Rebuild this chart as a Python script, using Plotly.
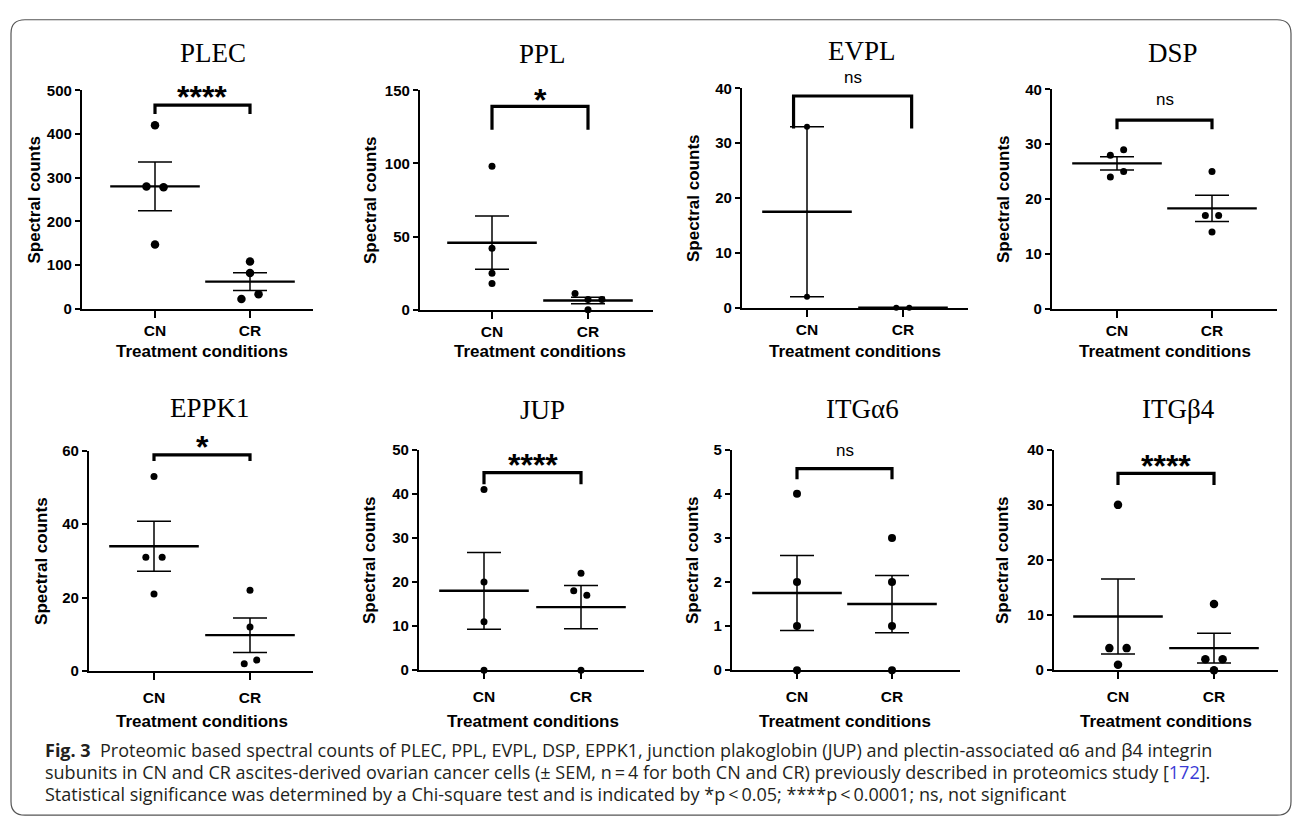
import plotly.graph_objects as go

W, H = 1293, 829

# ---------------- data ----------------
genes = ["PLEC", "PPL", "EVPL", "DSP", "EPPK1", "JUP", "ITGα6", "ITGβ4"]
groups = ["CN", "CR"]
significance = ["****", "*", "ns", "ns", "*", "****", "ns", "****"]

cn_values = [[420, 280, 278, 147], [98, 42, 25, 18], [33, 2], [28, 29, 24, 25],
             [53, 31, 31, 21], [41, 20, 11, 0], [4, 2, 1, 0], [30, 4, 4, 1]]
cr_values = [[108, 82, 22, 33], [11, 7, 7, 0], [0, 0], [25, 17, 17, 14],
             [22, 12, 2, 3], [22, 18, 17, 0], [3, 2, 1, 0], [12, 2, 2, 0]]

cn_mean = [280, 45.8, 17.5, 26.5, 34.0, 18.0, 1.75, 9.75]
cn_sem = [55.7, 18.2, 15.5, 1.2, 6.8, 8.7, 0.85, 6.8]
cr_mean = [62, 6.3, 0, 18.3, 9.8, 14.3, 1.5, 4.0]
cr_sem = [20.3, 2.3, 0, 2.4, 4.7, 4.9, 0.65, 2.7]

y_max = [500, 150, 40, 40, 60, 50, 5, 40]
y_dtick = [100, 50, 10, 10, 20, 10, 1, 10]

bracket_top = [466, 139, 38.6, 34.4, 58.9, 44.8, 4.57, 35.7]
bracket_leg = [446, 123, 32.7, 32.7, 57.2, 42.2, 4.33, 33.6]

caption_lines = [
    "<b>Fig. 3</b>  Proteomic based spectral counts of PLEC, PPL, EVPL, DSP, EPPK1, junction plakoglobin (JUP) and plectin-associated α6 and β4 integrin",
    "subunits in CN and CR ascites-derived ovarian cancer cells (± SEM, n\u2009=\u20094 for both CN and CR) previously described in proteomics study [<span style='color:#3b3bd6'>172</span>].",
    "Statistical significance was determined by a Chi-square test and is indicated by *p\u2009<\u20090.05; ****p\u2009<\u20090.0001; ns, not significant",
]

# ---------------- layout / style (pixel geometry) ----------------
geom = [
    dict(ax=82, cn=155, cr=250, right=313, top=83, bottom=306, tx=213, ty=45, yt=35),
    dict(ax=420, cn=492, cr=588, right=653, top=83, bottom=307, tx=542, ty=46, yt=370),
    dict(ax=742, cn=807, cr=903, right=968, top=81, bottom=305, tx=862, ty=43, yt=693),
    dict(ax=1052, cn=1117, cr=1212, right=1277, top=82, bottom=306, tx=1173, ty=45, yt=1003),
    dict(ax=89, cn=154, cr=250, right=313, top=451, bottom=676, tx=210, ty=407, yt=42),
    dict(ax=419, cn=484, cr=581, right=644, top=450, bottom=675, tx=542, ty=409, yt=370),
    dict(ax=732, cn=797, cr=892, right=960, top=450, bottom=675, tx=862, ty=408, yt=693),
    dict(ax=1054, cn=1118, cr=1214, right=1278, top=450, bottom=675, tx=1178, ty=408, yt=1003),
]
xtitle_y = [350, 350, 350, 350, 727, 727, 727, 727]
xtick_standoff = [0, 0, 0, 0, 4, 4, 4, 4]
cn_offsets = [[0, -0.09, 0.09, 0], [0, 0, 0, 0], [0, 0], [-0.07, 0.07, -0.07, 0.07],
              [0, -0.085, 0.085, 0], [0, 0, 0, 0], [0, 0, 0, 0], [0, -0.09, 0.09, 0]]
cr_offsets = [[0, 0, -0.09, 0.09], [-0.135, 0, 0.145, 0], [-0.07, 0.065], [0, -0.07, 0.07, 0],
              [0, 0, -0.06, 0.07], [0, -0.075, 0.06, 0], [0, 0, 0, 0], [0, -0.09, 0.09, 0]]
marker_size = [8.5, 7, 6, 7, 7, 7, 8, 8.5]
bracket_x = [(0, 1)] * 8
bracket_x[2] = (-0.14, 1.09)
label_y = [500, 148, 41.6, 37.7, 62.9, 48.1, 4.94, 38.3]

BLACK = "#000000"
SANS = "Liberation Sans, Arial, sans-serif"

fig = go.Figure()
layout = dict(
    width=W, height=H, autosize=False,
    margin=dict(l=0, r=0, t=0, b=0),
    paper_bgcolor="white", plot_bgcolor="white",
    showlegend=False,
)
annotations = []
shapes = []


def px_x(p):
    return p / W


def px_y(p):
    return 1 - p / H


for i, g in enumerate(genes):
    G = geom[i]
    sp = G["cr"] - G["cn"]
    xl = -(G["cn"] - G["ax"]) / sp
    xr = (G["right"] - G["cn"]) / sp
    xa = "x" if i == 0 else f"x{i+1}"
    ya = "y" if i == 0 else f"y{i+1}"
    xkey = "xaxis" if i == 0 else f"xaxis{i+1}"
    ykey = "yaxis" if i == 0 else f"yaxis{i+1}"

    layout[xkey] = dict(
        domain=[px_x(G["ax"]), px_x(G["right"])], anchor=ya,
        range=[xl, xr], tickmode="array", tickvals=[0, 1], ticktext=groups,
        showline=True, linecolor=BLACK, linewidth=2.2, showgrid=False, zeroline=False,
        ticks="outside", ticklen=7, tickwidth=2, tickcolor=BLACK,
        ticklabelstandoff=xtick_standoff[i],
        tickfont=dict(family=SANS, size=15.5, color=BLACK, weight="bold"),
        fixedrange=True,
    )
    layout[ykey] = dict(
        domain=[px_y(G["bottom"]), px_y(G["top"])], anchor=xa,
        range=[0, y_max[i]], tickmode="linear", tick0=0, dtick=y_dtick[i],
        showline=True, linecolor=BLACK, linewidth=2.2, showgrid=False, zeroline=False,
        ticks="outside", ticklen=5, tickwidth=2, tickcolor=BLACK,
        tickfont=dict(family=SANS, size=15, color=BLACK, weight="bold"),
        fixedrange=True,
    )

    # individual points
    xs = [0 + o for o in cn_offsets[i]] + [1 + o for o in cr_offsets[i]]
    ys = list(cn_values[i]) + list(cr_values[i])
    fig.add_trace(go.Scatter(
        x=xs, y=ys, mode="markers", xaxis=xa, yaxis=ya, cliponaxis=False,
        marker=dict(size=marker_size[i], color=BLACK, line=dict(width=0)),
        hoverinfo="skip",
    ))
    # mean line + SEM
    fig.add_trace(go.Scatter(
        x=[0, 1], y=[cn_mean[i], cr_mean[i]], mode="markers", xaxis=xa, yaxis=ya,
        cliponaxis=False,
        marker=dict(symbol="line-ew", size=64, color=BLACK, line=dict(width=2.4, color=BLACK)),
        error_y=dict(type="data", array=[cn_sem[i], cr_sem[i]], visible=True,
                     thickness=1.5, width=17, color=BLACK),
        hoverinfo="skip",
    ))
    # significance bracket
    bx0, bx1 = bracket_x[i]
    fig.add_trace(go.Scatter(
        x=[bx0, bx0, bx1, bx1],
        y=[bracket_leg[i], bracket_top[i], bracket_top[i], bracket_leg[i]],
        mode="lines", xaxis=xa, yaxis=ya, cliponaxis=False,
        line=dict(color=BLACK, width=3.2), hoverinfo="skip",
    ))
    # significance label (paper coords so it is never hidden above the axis range)
    lab_px_x = G["cn"] + (bx0 + bx1) / 2 * sp
    lab_px_y = G["bottom"] - label_y[i] / y_max[i] * (G["bottom"] - G["top"])
    sig = significance[i]
    if sig == "ns":
        annotations.append(dict(
            x=px_x(lab_px_x), y=px_y(lab_px_y), xref="paper", yref="paper", text=sig,
            showarrow=False, font=dict(family=SANS, size=17, color=BLACK),
            xanchor="center", yanchor="middle", yshift=2,
        ))
    else:
        annotations.append(dict(
            x=px_x(lab_px_x), y=px_y(lab_px_y), xref="paper", yref="paper", text=sig,
            showarrow=False, font=dict(family=SANS, size=32, color=BLACK, weight="bold"),
            xanchor="center", yanchor="middle", yshift=-7,
        ))

    # panel title
    annotations.append(dict(
        x=px_x(G["tx"]), y=px_y(G["ty"]), xref="paper", yref="paper", text=g,
        showarrow=False, font=dict(family="Liberation Serif, Times New Roman, serif", size=27, color=BLACK),
        xanchor="center", yanchor="middle",
    ))
    # y title
    annotations.append(dict(
        x=px_x(G["yt"]), y=px_y((G["top"] + G["bottom"]) / 2), xref="paper", yref="paper",
        text="Spectral counts", textangle=-90, showarrow=False,
        font=dict(family=SANS, size=17, color=BLACK, weight="bold"),
        xanchor="center", yanchor="middle",
    ))
    # x title
    annotations.append(dict(
        x=px_x((G["cn"] + G["cr"]) / 2), y=px_y(xtitle_y[i]), xref="paper", yref="paper",
        text="Treatment conditions", showarrow=False,
        font=dict(family=SANS, size=17, color=BLACK, weight="bold"),
        xanchor="center", yanchor="middle",
    ))

# caption
cap_y = [757, 779, 801]
for line, cy in zip(caption_lines, cap_y):
    annotations.append(dict(
        x=px_x(43), y=px_y(cy), xref="paper", yref="paper", text=line, showarrow=False,
        font=dict(family="Open Sans, Noto Sans, sans-serif", size=18, color="#231f20"),
        xanchor="left", yanchor="middle", align="left",
    ))

# rounded frame
x0, x1, y0, y1, r = 11, 1291, 11, 823, 14
rx, ry = r / W, r / H
X0, X1, Y0, Y1 = px_x(x0), px_x(x1), px_y(y0), px_y(y1)
path = (f"M {X0+rx},{Y0} L {X1-rx},{Y0} Q {X1},{Y0} {X1},{Y0-ry} "
        f"L {X1},{Y1+ry} Q {X1},{Y1} {X1-rx},{Y1} "
        f"L {X0+rx},{Y1} Q {X0},{Y1} {X0},{Y1+ry} "
        f"L {X0},{Y0-ry} Q {X0},{Y0} {X0+rx},{Y0} Z")
shapes.append(dict(type="path", path=path, xref="paper", yref="paper",
                   line=dict(color="#555555", width=1.2), fillcolor="rgba(0,0,0,0)", layer="below"))

layout["annotations"] = annotations
layout["shapes"] = shapes
fig.update_layout(**layout)
fig.write_html(
    "out.html",
    config={"displayModeBar": False},
    post_script=(
        "document.documentElement.style.margin='0';"
        "document.body.style.margin='0';document.body.style.padding='0';"
        "document.body.style.overflow='hidden';"
        "var gd=document.getElementById('{plot_id}');"
        "gd.style.position='fixed';gd.style.top='0px';gd.style.left='0px';"
    ),
)
